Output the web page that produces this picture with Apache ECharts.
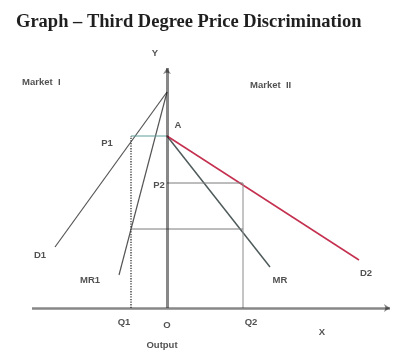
<!DOCTYPE html>
<html><head><meta charset="utf-8">
<script src="https://cdn.jsdelivr.net/npm/echarts@6/dist/echarts.min.js"></script>
<style>html,body{margin:0;padding:0;background:#fff}#c{width:398px;height:361px}</style>
</head><body><div id="c"></div>
<script>
// Economic coordinates: origin O at the Y axis / X axis crossing (quantity, price)
const xAxisLine = [[-135, 0], [223, 0]];
const yAxisLine = [[0, 0], [0, 240]];
const D1 = [[0, 216], [-112, 61]];
const MR1 = [[0, 216], [-48, 33]];
const D2 = [[0, 172], [192, 48]];
const MR2 = [[0, 172], [103, 41]];
const P1 = 172, Q1 = -36;
const P2 = 125, Q2 = 76;
const MC = 79;
const labels = [
  [-12, 255, 'Y'], [11, 183, 'A'], [-60, 165, 'P1'], [-8, 123, 'P2'],
  [-127, 53, 'D1'], [-77, 28, 'MR1'], [113, 28, 'MR'], [199, 35, 'D2'],
  [-43, -14, 'Q1'], [0, -17, 'O'], [84, -14, 'Q2'], [155, -24, 'X'], [-5, -37, 'Output']
];
const leftLabels = [[-145, 226, 'Market  I'], [83, 223, 'Market  II']];

const chart = echarts.init(document.getElementById('c'), null, {renderer: 'canvas'});
function seg(pts, color, width, type) {
  return {type: 'line', data: pts, symbol: 'none', silent: true, animation: false,
    lineStyle: {color: color, width: width, type: type || 'solid'}, z: 3};
}
const labelFont = {fontFamily: 'Liberation Sans', fontWeight: 'bold', fontSize: 9.5, color: '#262626'};
chart.setOption({
  animation: false,
  title: {text: 'Graph – Third Degree Price Discrimination', left: 11, top: 8,
    textStyle: {fontFamily: 'Liberation Serif', fontWeight: 'bold', fontSize: 18.5, color: '#1f1f1f'}},
  grid: {left: 0, right: 0, top: 0, bottom: 0},
  xAxis: {type: 'value', min: -167, max: 231, show: false},
  yAxis: {type: 'value', min: -53, max: 308, show: false},
  series: [
    seg(D1, '#555', 1.2),
    seg(MR1, '#555', 1.2),
    seg(MR2, '#4f5a5a', 1.5),
    seg(D2, '#c4304f', 1.5),
    seg([[Q1, P1], [0, P1]], '#5a9e9c', 1),
    seg([[Q1, 0], [Q1, P1]], '#333', 1.3, 'dotted'),
    seg([[Q1, MC], [Q2, MC]], '#7a7a7a', 1),
    seg([[0, P2], [Q2, P2]], '#7a7a7a', 1),
    seg([[Q2, 0], [Q2, P2]], '#8a8a8a', 1),
    {type: 'lines', coordinateSystem: 'cartesian2d', polyline: false, silent: true, z: 5,
      symbol: ['none', 'arrow'], symbolSize: 6,
      data: [
        {coords: xAxisLine, lineStyle: {width: 2.5, color: '#111'}},
        {coords: yAxisLine, lineStyle: {width: 3, color: '#111'}}
      ]},
    {type: 'scatter', symbolSize: 0, clip: false, silent: true,
      data: labels.map(l => ({value: [l[0], l[1]], name: l[2]})),
      label: Object.assign({show: true, position: 'inside', formatter: p => p.name,
        align: 'center', verticalAlign: 'middle'}, labelFont)},
    {type: 'scatter', symbolSize: 0, clip: false, silent: true,
      data: leftLabels.map(l => ({value: [l[0], l[1]], name: l[2]})),
      label: Object.assign({show: true, position: 'inside', formatter: p => p.name,
        align: 'left', verticalAlign: 'middle'}, labelFont)}
  ]
});
</script></body></html>
